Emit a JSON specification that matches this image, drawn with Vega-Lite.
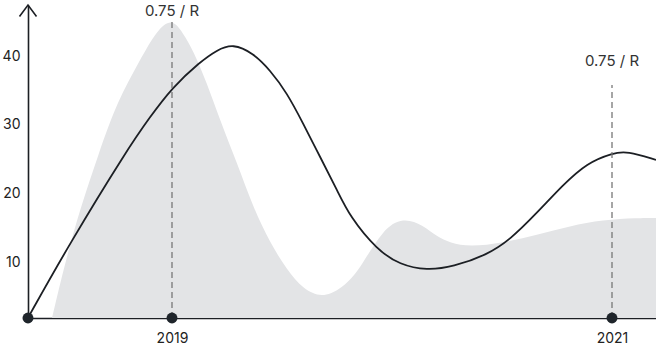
{
  "$schema": "https://vega.github.io/schema/vega-lite/v6.json",
  "width": 628,
  "height": 313,
  "autosize": {"type": "none"},
  "padding": {"left": 28, "top": 5, "right": 0, "bottom": 33},
  "background": "white",
  "config": {"view": {"stroke": null}, "font": "Inter"},
  "datasets": {
    "area": [
      {"x": 2018.4545, "y": 2.0},
      {"x": 2018.55, "y": 14.78},
      {"x": 2018.6727, "y": 26.4},
      {"x": 2018.75, "y": 33.3},
      {"x": 2018.8545, "y": 39.42},
      {"x": 2018.932, "y": 43.77},
      {"x": 2019.0, "y": 45.5},
      {"x": 2019.05, "y": 43.33},
      {"x": 2019.0955, "y": 40.87},
      {"x": 2019.159, "y": 36.09},
      {"x": 2019.218, "y": 30.72},
      {"x": 2019.2955, "y": 24.49},
      {"x": 2019.368, "y": 18.12},
      {"x": 2019.4455, "y": 12.9},
      {"x": 2019.5227, "y": 8.99},
      {"x": 2019.595, "y": 6.2},
      {"x": 2019.682, "y": 4.9},
      {"x": 2019.764, "y": 6.2},
      {"x": 2019.809, "y": 7.54},
      {"x": 2019.8545, "y": 9.2},
      {"x": 2019.959, "y": 14.9},
      {"x": 2020.05, "y": 16.6},
      {"x": 2020.141, "y": 15.5},
      {"x": 2020.2045, "y": 13.77},
      {"x": 2020.2636, "y": 12.9},
      {"x": 2020.3545, "y": 12.32},
      {"x": 2020.5045, "y": 12.9},
      {"x": 2020.659, "y": 14.06},
      {"x": 2020.809, "y": 15.36},
      {"x": 2020.959, "y": 16.23},
      {"x": 2021.1136, "y": 16.52},
      {"x": 2021.2, "y": 16.52}
    ],
    "line": [
      {"x": 2018.3455, "y": 2.03},
      {"x": 2018.5364, "y": 12.9},
      {"x": 2018.7955, "y": 26.38},
      {"x": 2018.9, "y": 31.16},
      {"x": 2019.0, "y": 35.4},
      {"x": 2019.127, "y": 39.13},
      {"x": 2019.2045, "y": 40.87},
      {"x": 2019.277, "y": 41.8},
      {"x": 2019.368, "y": 40.43},
      {"x": 2019.4455, "y": 37.97},
      {"x": 2019.5227, "y": 34.64},
      {"x": 2019.595, "y": 30.29},
      {"x": 2019.673, "y": 25.36},
      {"x": 2019.75, "y": 20.58},
      {"x": 2019.809, "y": 16.67},
      {"x": 2019.932, "y": 11.88},
      {"x": 2020.036, "y": 9.71},
      {"x": 2020.159, "y": 8.9},
      {"x": 2020.277, "y": 9.42},
      {"x": 2020.432, "y": 11.16},
      {"x": 2020.536, "y": 13.33},
      {"x": 2020.659, "y": 17.25},
      {"x": 2020.777, "y": 21.3},
      {"x": 2020.886, "y": 24.49},
      {"x": 2021.0045, "y": 25.94},
      {"x": 2021.068, "y": 26.2},
      {"x": 2021.2, "y": 24.93}
    ],
    "refs": [
      {"x": 2019, "y": 2, "top": 45.2, "labelY": 46.5, "label": "0.75 / R"},
      {"x": 2021, "y": 2, "top": 35.8, "labelY": 39.3, "label": "0.75 / R"}
    ],
    "dots": [
      {"x": 2018.3455, "y": 2},
      {"x": 2019, "y": 2},
      {"x": 2021, "y": 2}
    ],
    "arrow": [
      {"x": 2018.3455, "y": 47.4}
    ]
  },
  "layer": [
    {
      "data": {"name": "area"},
      "mark": {"type": "area", "interpolate": "basis", "color": "#e3e4e6", "clip": true},
      "encoding": {
        "x": {
          "field": "x", "type": "quantitative",
          "scale": {"domain": [2018.3455, 2021.2], "nice": false, "zero": false},
          "axis": {
            "values": [2019, 2021], "format": "d", "title": null,
            "ticks": false, "grid": false, "domainColor": "#1c1f24", "domainWidth": 1.6,
            "labelFontSize": 14, "labelColor": "#222", "labelPadding": 13, "labelFlush": false
          }
        },
        "y": {
          "field": "y", "type": "quantitative",
          "scale": {"domain": [2, 47.4], "nice": false, "zero": false},
          "axis": {
            "values": [10, 20, 30, 40], "title": null,
            "ticks": false, "grid": false, "domainColor": "#1c1f24", "domainWidth": 1.6,
            "labelFontSize": 14, "labelColor": "#222", "labelPadding": 8
          }
        },
        "y2": {"datum": 2}
      }
    },
    {
      "data": {"name": "line"},
      "mark": {"type": "line", "interpolate": "basis", "color": "#1c1f24", "strokeWidth": 1.8, "clip": true},
      "encoding": {
        "x": {"field": "x", "type": "quantitative"},
        "y": {"field": "y", "type": "quantitative"}
      }
    },
    {
      "data": {"name": "refs"},
      "mark": {"type": "rule", "color": "#777", "strokeWidth": 1.3, "strokeDash": [6, 4]},
      "encoding": {
        "x": {"field": "x", "type": "quantitative"},
        "y": {"field": "y", "type": "quantitative"},
        "y2": {"field": "top"}
      }
    },
    {
      "data": {"name": "refs"},
      "mark": {"type": "text", "fontSize": 15, "color": "#333", "baseline": "middle", "align": "center"},
      "encoding": {
        "x": {"field": "x", "type": "quantitative"},
        "y": {"field": "labelY", "type": "quantitative"},
        "text": {"field": "label"}
      }
    },
    {
      "data": {"name": "dots"},
      "mark": {"type": "point", "shape": "circle", "filled": true, "size": 120, "color": "#1f252b", "opacity": 1},
      "encoding": {
        "x": {"field": "x", "type": "quantitative"},
        "y": {"field": "y", "type": "quantitative"}
      }
    },
    {
      "data": {"name": "arrow"},
      "mark": {"type": "point", "shape": "M-1,1.35L0,0L1,1.35", "filled": false, "size": 289, "color": "#1c1f24", "strokeWidth": 1.6, "opacity": 1},
      "encoding": {
        "x": {"field": "x", "type": "quantitative"},
        "y": {"field": "y", "type": "quantitative"}
      }
    }
  ]
}
